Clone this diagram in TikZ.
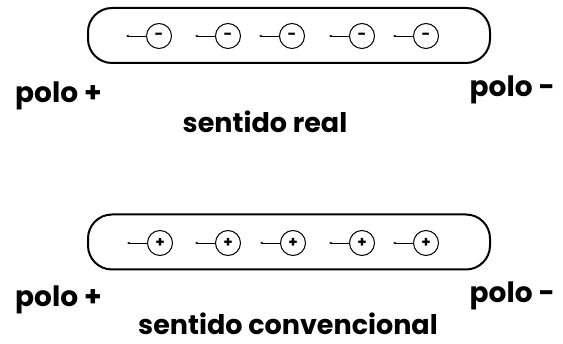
\documentclass[tikz,border=0pt]{standalone}
\usepackage{fontspec}
\setmainfont{Poppins}
\usetikzlibrary{arrows.meta,positioning}

\begin{document}
\begin{tikzpicture}[x=1pt,y=-1pt,
    wire/.style={draw,line width=2pt,rounded corners=24pt,minimum width=402pt,minimum height=55pt},
    charge/.style={draw,circle,line width=1pt,minimum size=25pt,inner sep=0pt,font=\bfseries\fontsize{15}{15}\selectfont},
    drift/.style={-{Latex[length=2.5pt,width=2.5pt]},line width=0.8pt},
    lbl/.style={font=\bfseries\fontsize{28}{28}\selectfont,inner sep=0pt},
    title/.style={font=\bfseries\fontsize{27}{27}\selectfont,inner sep=0pt}]
      \useasboundingbox (0,0) rectangle (563,344);

      % sentido real
      \node[wire] (realwire) at (289,35.5) {};
      \node[charge] (r1) at (159,36) {-};
      \node[charge] (r2) at (228,36) {-};
      \node[charge] (r3) at (292,36) {-};
      \node[charge] (r4) at (362,36) {-};
      \node[charge] (r5) at (426,36) {-};
      \draw[drift] (r1.west) -- +(-20,0);
      \draw[drift] (r2.west) -- +(-20,0);
      \draw[drift] (r3.west) -- +(-20,0);
      \draw[drift] (r4.west) -- +(-20,0);
      \draw[drift] (r5.west) -- +(-20,0);
      \node[lbl,anchor=base west] (rpos) at (15,103) {polo +};
      \node[lbl,anchor=base east] (rneg) at (555,97) {polo -};
      \node[title,anchor=base] (rname) at (265,133) {sentido real};

      % sentido convencional
      \node[wire] (convwire) at (289,242) {};
      \node[charge] (c1) at (160,243) {+};
      \node[charge] (c2) at (228,243) {+};
      \node[charge] (c3) at (293,243) {+};
      \node[charge] (c4) at (362,243) {+};
      \node[charge] (c5) at (426,243) {+};
      \draw[drift] (c1.west) -- +(-20,0);
      \draw[drift] (c2.west) -- +(-20,0);
      \draw[drift] (c3.west) -- +(-20,0);
      \draw[drift] (c4.west) -- +(-20,0);
      \draw[drift] (c5.west) -- +(-20,0);
      \node[lbl,anchor=base west] (cpos) at (15,307) {polo +};
      \node[lbl,anchor=base east] (cneg) at (555,303) {polo -};
      \node[title,anchor=base] (cname) at (288,335) {sentido convencional};
\end{tikzpicture}
\end{document}
